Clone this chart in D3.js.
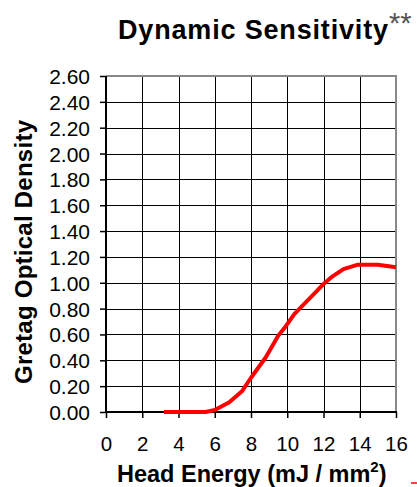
<!DOCTYPE html>
<html>
<head>
<meta charset="utf-8">
<script src="https://cdn.jsdelivr.net/npm/d3@7"></script>
<style>
  body { margin: 0; background: #fff; }
  text { font-family: "Liberation Sans", Arial, sans-serif; }
</style>
</head>
<body>
<div id="chart"></div>
<script>
// head energy (mJ / mm2) and measured density
const energy = [3.2, 4, 5, 5.5, 6, 6.8, 7.5, 8, 8.8, 9.5, 9.9, 10.4, 11.1, 12, 12.5, 13.1, 13.9, 15, 16];
const density = [0, 0, 0, 0, 0.015, 0.075, 0.16, 0.265, 0.42, 0.59, 0.66, 0.76, 0.86, 0.99, 1.05, 1.105, 1.14, 1.14, 1.12];
const xTicks = [0, 2, 4, 6, 8, 10, 12, 14, 16];
const yTicks = [0, 0.2, 0.4, 0.6, 0.8, 1.0, 1.2, 1.4, 1.6, 1.8, 2.0, 2.2, 2.4, 2.6];

const width = 417, height = 487;
const x = d3.scaleLinear().domain([0, 16]).range([106, 396]);
const y = d3.scaleLinear().domain([0, 2.6]).range([412, 76]);

const svg = d3.select('#chart').append('svg')
    .attr('width', width)
    .attr('height', height);

// grid
svg.append('g').selectAll('line')
    .data(yTicks.slice(1, -1))
    .join('line')
    .attr('x1', x(0)).attr('x2', x(16))
    .attr('y1', d => Math.round(y(d)) + 0.5).attr('y2', d => Math.round(y(d)) + 0.5)
    .attr('stroke', '#000').attr('stroke-width', 1);
svg.append('g').selectAll('line')
    .data(xTicks.slice(1, -1))
    .join('line')
    .attr('x1', d => Math.round(x(d)) + 0.5).attr('x2', d => Math.round(x(d)) + 0.5)
    .attr('y1', y(2.6)).attr('y2', y(0))
    .attr('stroke', '#000').attr('stroke-width', 1);

// plot area border, top and right are grey
svg.append('line')
    .attr('x1', x(0)).attr('x2', x(16) + 1)
    .attr('y1', y(2.6)).attr('y2', y(2.6))
    .attr('stroke', '#888').attr('stroke-width', 2);
svg.append('line')
    .attr('x1', x(16)).attr('x2', x(16))
    .attr('y1', y(2.6)).attr('y2', y(0))
    .attr('stroke', '#888').attr('stroke-width', 2);

// axes
const yAxis = d3.axisLeft(y).tickValues(yTicks).tickSize(6).tickFormat(d3.format('.2f'));
const xAxis = d3.axisBottom(x).tickValues(xTicks).tickSize(6).tickFormat(d3.format('d'));

const gy = svg.append('g').attr('transform', `translate(${x(0)},0)`).call(yAxis);
gy.select('.domain').attr('stroke', '#000').attr('stroke-width', 2).attr('d', `M0,${y(2.6)}V${y(0) + 1}`);
gy.selectAll('.tick line').attr('stroke', '#000').attr('stroke-width', 1.5);
gy.selectAll('.tick text')
    .attr('x', -16).attr('dy', null).attr('y', 7.5)
    .attr('font-size', '21px')
    .attr('fill', '#000');

const gx = svg.append('g').attr('transform', `translate(0,${y(0)})`).call(xAxis);
gx.select('.domain').attr('stroke', '#000').attr('stroke-width', 2).attr('d', `M${x(0) - 1},0H${x(16) + 1}`);
gx.selectAll('.tick line').attr('stroke', '#000').attr('stroke-width', 1.5);
gx.selectAll('.tick text')
    .attr('y', 39).attr('dy', null)
    .attr('font-size', '20.5px')
    .attr('fill', '#000');
svg.selectAll('.domain, .tick').attr('font-family', null);

// the curve
const line = d3.line().x(d => x(d[0])).y(d => y(d[1]));
svg.append('path')
    .datum(d3.zip(energy, density))
    .attr('d', line)
    .attr('fill', 'none')
    .attr('stroke', '#ff0000')
    .attr('stroke-width', 4)
    .attr('stroke-linejoin', 'round');

// titles
svg.append('text')
    .attr('x', 118).attr('y', 39)
    .attr('font-size', '27px').attr('font-weight', 'bold')
    .attr('textLength', 270).attr('lengthAdjust', 'spacing')
    .text('Dynamic Sensitivity');
svg.append('text')
    .attr('x', 389).attr('y', 33)
    .attr('font-size', '29px').attr('fill', '#555')
    .text('**');

const xt = svg.append('text')
    .attr('x', 117).attr('y', 482)
    .attr('font-size', '23.5px').attr('font-weight', 'bold');
xt.append('tspan').text('Head Energy (mJ / mm');
xt.append('tspan').attr('font-size', '15px').attr('dy', -10).text('2');
xt.append('tspan').attr('dy', 10).text(')');

svg.append('text')
    .attr('transform', 'translate(32,252) rotate(-90)')
    .attr('text-anchor', 'middle')
    .attr('font-size', '24px').attr('font-weight', 'bold')
    .attr('textLength', 264).attr('lengthAdjust', 'spacing')
    .text('Gretag Optical Density');

// stray red mark at the bottom corner
svg.append('line')
    .attr('x1', 411).attr('x2', 417)
    .attr('y1', 483).attr('y2', 483)
    .attr('stroke', '#ff0000').attr('stroke-width', 1.5);
</script>
</body>
</html>
